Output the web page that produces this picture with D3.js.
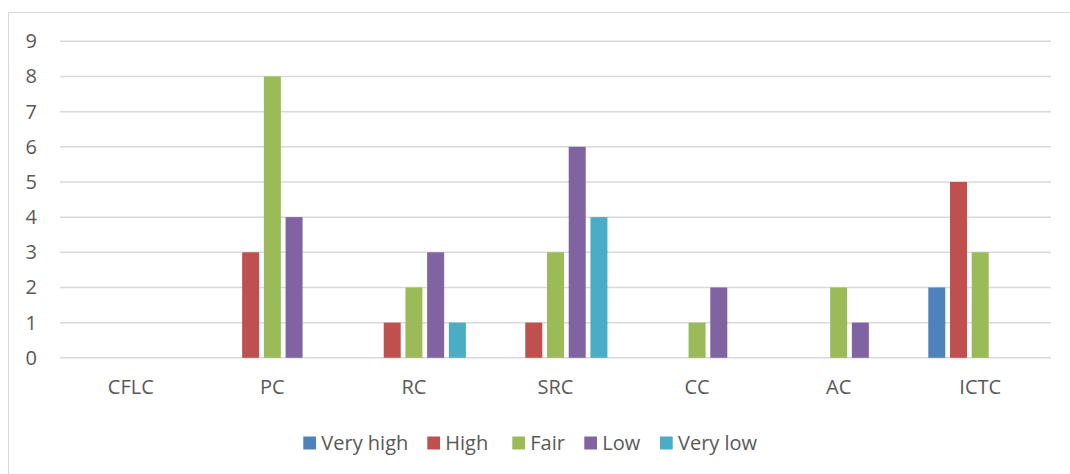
<!DOCTYPE html>
<html>
<head>
<meta charset="utf-8">
<script src="https://cdn.jsdelivr.net/npm/d3@7"></script>
<style>
  html, body { margin: 0; padding: 0; background: #fff; }
  svg { display: block; }
  text { font-family: "Open Sans", "Noto Sans", sans-serif; fill: #595959; }
</style>
</head>
<body>
<svg id="chart" width="1070" height="474"></svg>
<script>
const categories = ["CFLC", "PC", "RC", "SRC", "CC", "AC", "ICTC"];
const seriesNames = ["Very high", "High", "Fair", "Low", "Very low"];
const seriesColors = ["#4F81BD", "#C0504D", "#9BBB59", "#8064A2", "#4BACC6"];
const veryHigh = [0, 0, 0, 0, 0, 0, 2];
const high     = [0, 3, 1, 1, 0, 0, 5];
const fair     = [0, 8, 2, 3, 1, 2, 3];
const low      = [0, 4, 3, 6, 2, 1, 0];
const veryLow  = [0, 0, 1, 4, 0, 0, 0];
const yTicks = [0, 1, 2, 3, 4, 5, 6, 7, 8, 9];

const seriesValues = [veryHigh, high, fair, low, veryLow];

const svg = d3.select("#chart");

// outer chart border
svg.append("rect")
  .attr("x", 8.5).attr("y", 12.5)
  .attr("width", 1100).attr("height", 500)
  .attr("fill", "none").attr("stroke", "#d9d9d9").attr("stroke-width", 1);

const plotLeft = 60, plotRight = 1051, plotTop = 41.3, plotBottom = 357.8;

const x = d3.scaleBand().domain(categories).range([plotLeft, plotRight]).paddingInner(0).paddingOuter(0);
const inner = d3.scaleBand().domain(seriesNames)
  .range([0, x.bandwidth()]).paddingOuter(0.76).paddingInner(0);
const y = d3.scaleLinear().domain([0, 9]).range([plotBottom, plotTop]);

// gridlines
svg.append("g").selectAll("line").data(yTicks).join("line")
  .attr("x1", plotLeft).attr("x2", plotRight)
  .attr("y1", d => y(d)).attr("y2", d => y(d))
  .attr("stroke", "#d9d9d9").attr("stroke-width", 1.5);

// y axis labels
const yAxis = d3.axisLeft(y).tickValues(yTicks).tickSize(0).tickPadding(0).tickFormat(d3.format("d"));
const gy = svg.append("g").attr("transform", `translate(37,0)`).call(yAxis);
gy.select(".domain").remove();
gy.selectAll("text").attr("font-size", 20).attr("fill", "#595959")
  .style("font-family", '"Open Sans", "Noto Sans", sans-serif');

// bars
const barW = 17;
seriesNames.forEach((name, si) => {
  svg.append("g").selectAll("rect")
    .data(categories.map((c, ci) => ({ c, v: seriesValues[si][ci] })).filter(d => d.v > 0))
    .join("rect")
    .attr("x", d => x(d.c) + inner(name) + (inner.bandwidth() - barW) / 2)
    .attr("y", d => y(d.v))
    .attr("width", barW)
    .attr("height", d => y(0) - y(d.v))
    .attr("fill", seriesColors[si]);
});

// x axis labels
const xAxis = d3.axisBottom(x).tickSize(0).tickPadding(0);
const gx = svg.append("g").attr("transform", `translate(0,${plotBottom + 22})`).call(xAxis);
gx.select(".domain").remove();
gx.selectAll("text").attr("font-size", 20).attr("fill", "#595959").attr("dy", "0.71em")
  .style("font-family", '"Open Sans", "Noto Sans", sans-serif');

// legend
const legendX = [303.3, 427.3, 512.3, 584.3, 660];
const lg = svg.append("g");
seriesNames.forEach((name, i) => {
  lg.append("rect").attr("x", legendX[i]).attr("y", 436.5).attr("width", 12.7).attr("height", 13)
    .attr("fill", seriesColors[i]);
  lg.append("text").attr("x", legendX[i] + 18).attr("y", 450)
    .attr("font-size", 20).text(name);
});
</script>
</body>
</html>
